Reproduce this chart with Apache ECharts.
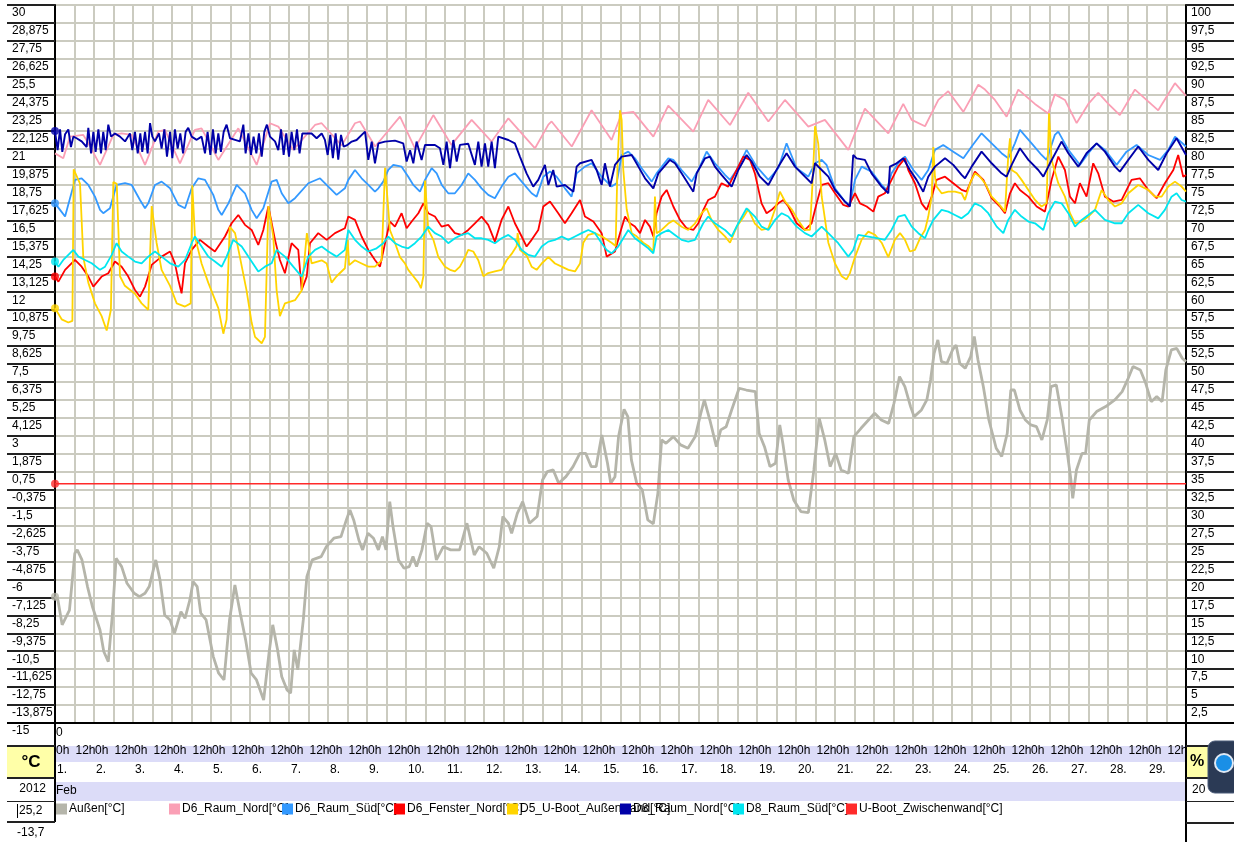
<!DOCTYPE html>
<html>
<head>
<meta charset="utf-8">
<title>Feb 2012</title>
<script src="https://cdn.jsdelivr.net/npm/echarts@6/dist/echarts.min.js"></script>
<style>
html,body{margin:0;padding:0;background:#fff;}
#main{width:1234px;height:842px;}
</style>
</head>
<body>
<div id="main"></div>
<script>
// Zeit in Stunden ab 1. Feb 0h, Werte in °C
var monthLabel = 'Feb';
var yearLabel = '2012';
var totalHours = 696;

var seriesNames = ['Außen[°C]', 'D6_Raum_Nord[°C]', 'D6_Raum_Süd[°C]', 'D6_Fenster_Nord[°C]',
    'D5_U-Boot_Außenwand[°C]', 'D8_Raum_Nord[°C]', 'D8_Raum_Süd[°C]', 'U-Boot_Zwischenwand[°C]'];
var seriesColors = ['#b5b5aa', '#fa9fb5', '#3399ff', '#ff0000', '#ffd400', '#0000a8', '#00e6f0', '#ff2a2a'];
var legendLeft = [56, 169, 282, 394, 507, 620, 733, 846];

var aussen = [[0,-7.08],[1.8,-7.29],[4.4,-8.85],[8.9,-7.92],[12.2,-4.36],[13.7,-4.15],[16.6,-4.78],[20,-6.45],
  [23,-7.7],[27.7,-9.17],[30,-10.52],[32.8,-11.15],[35.4,-8.12],[37.6,-4.68],[41,-5.2],[44.3,-6.24],[48.7,-6.87],
  [52,-7.08],[55.4,-6.87],[58,-6.45],[62,-4.78],[64.6,-6.03],[67.5,-8.23],[70.8,-8.54],[73.5,-9.38],[77.5,-8.02],
  [80,-8.44],[83,-7.29],[85,-6.14],[87.5,-6.45],[89.7,-8.12],[93,-8.54],[97.4,-10.84],[100.7,-11.88],[104,-12.3],
  [107.4,-8.54],[110.7,-6.35],[114,-8.12],[117.3,-9.79],[120.7,-11.88],[124,-12.3],[128.4,-13.56],[131.7,-10.63],
  [134,-8.85],[137,-10.42],[139.5,-12.09],[142.8,-12.93],[145,-13.13],[147.2,-10.42],[149.4,-11.67],[152.8,-8.54],
  [155,-5.83],[158.3,-4.78],[163.8,-4.57],[167,-3.95],[171.6,-3.42],[176,-3.32],[179.3,-2.27],[181.5,-1.65],
  [183.8,-2.27],[187,-3.53],[189.3,-4.15],[192.6,-3.11],[196,-3.42],[199,-4.15],[201.5,-3.32],[203.7,-4.15],
  [206,-1.13],[208,-2.69],[211.4,-4.78],[214.8,-5.3],[218,-5.2],[220.3,-4.57],[222.5,-5.2],[225.8,-4.15],
  [229,-2.48],[231.4,-2.69],[234.7,-4.78],[239,-3.95],[243.5,-4.15],[249,-4.15],[253.5,-2.48],[258,-4.47],
  [261,-3.95],[265.7,-4.36],[270,-5.3],[273.4,-3.95],[275.6,-2.06],[279,-2.48],[281,-3.11],[284.5,-1.86],
  [287.8,-1.13],[292,-2.48],[296.7,-2.06],[300,0.23],[303,0.76],[306.6,0.86],[310,0.02],[314.4,0.44],[318.8,1.07],
  [323,1.9],[326.6,1.9],[330,1.07],[333,1.07],[336.5,3.05],[340,1.28],[342,0.02],[344.6,0.44],[346.8,2.95],
  [350.2,4.66],[352.5,4.2],[354.7,1.49],[358,0.02],[361.4,-0.39],[364.8,-2.27],[368.2,-2.52],[371,-0.6],
  [373.3,2.74],[376,2.53],[380.5,2.95],[385,2.43],[389.5,2.22],[394,2.95],[397.4,4.41],[399.6,5.25],[403,3.99],
  [407,2.32],[409.7,3.37],[413,3.57],[416.4,4.62],[421,5.98],[425.4,5.87],[431,5.77],[433.3,3.16],[436.6,2.32],
  [440,1.07],[443.4,1.28],[446,3.68],[447.9,2.53],[451.2,0.23],[454.6,-1.02],[459,-1.75],[463.6,-1.81],[467,0.86],
  [470.3,4.1],[473.7,2.74],[477,1.07],[480.4,1.9],[483.8,0.86],[488.3,0.65],[491.6,2.95],[496,3.47],[500.6,3.99],
  [504.4,4.41],[508.5,3.99],[513,3.78],[516.3,5.04],[519.7,6.71],[523,6.08],[526.5,4.83],[528.7,4.2],[533.2,4.62],
  [536.5,5.25],[538.8,6.5],[541,8.17],[543.3,9.01],[545.5,7.65],[548.9,7.54],[552.3,8.38],[554.5,8.69],[556.8,7.54],
  [560.1,7.23],[563.5,7.96],[565.7,9.22],[568,7.75],[571.3,6.08],[574.7,3.99],[579.2,2.22],[582.6,1.7],[586,3.16],
  [588.2,5.87],[590.4,5.87],[593.8,4.62],[597.2,3.99],[600.5,3.68],[604,3.57],[607.3,2.74],[610.6,3.99],[612.9,6.08],
  [616.2,6.19],[619.6,4.2],[623,1.9],[625.2,0.23],[626.3,-0.92],[628.6,0.86],[632,1.9],[634.2,1.9],[636.5,3.99],
  [641,4.52],[646.6,4.83],[652.2,5.25],[656.7,5.77],[660,6.5],[663.4,7.34],[667.9,7.13],[671.2,6.29],[674.6,5.14],
  [678,5.46],[681.3,5.14],[683.6,7.13],[687,8.38],[690.3,8.48],[693.7,7.86],[696,7.65]];

var d6Nord = [[0,20.7],[5.1,20.4],[9.2,21.75],[17.4,21.86],[20.5,21.33],[27.7,19.98],[35.9,21.86],[41,21.96],
  [47.2,21.86],[55.4,19.98],[63.6,22.06],[67.7,22.17],[76.9,20.08],[86.1,22.17],[90.2,22.27],[100.5,20.29],
  [112.8,22.27],[124.1,19.98],[132.3,22.59],[137.4,22.38],[146.6,20.92],[160,22.48],[164.1,22.59],[176.4,21.2],
  [184.6,22.59],[187.7,22.7],[197,21.13],[212.3,23.0],[221.5,21.02],[232.8,23.1],[244,21.23],[256.4,22.8],
  [268.7,21.44],[279,22.9],[295.4,21.02],[303.6,22.5],[305.6,22.7],[318,21.13],[330.2,23.4],[342.5,21.54],
  [348.7,23.2],[355.9,23.3],[368.2,21.75],[377.4,23.7],[392.8,22.06],[402,24.05],[415.4,22.48],[426.6,24.5],
  [439,22.7],[449.2,24.05],[463.6,22.38],[473.8,22.8],[488.2,20.92],[498.4,23.5],[512.8,21.96],[522,23.8],
  [527.2,22.8],[535.4,22.4],[543.6,24.05],[549.7,24.6],[559,23.3],[568.2,25.0],[572.3,24.7],[578.4,24.05],
  [585.6,23.0],[592.8,24.7],[603,23.8],[611.2,23.2],[615.3,24.4],[621.5,24.05],[628.7,22.6],[635.9,23.8],
  [642,24.5],[648.2,23.8],[655.3,23.1],[664.6,24.7],[678.9,23.4],[689.2,25.1],[696,24.3]];

var d6Sued = [[0,17.57],[3.1,17.16],[6.2,16.74],[12.3,19.04],[16.4,19.14],[20.5,18.72],[24.6,17.99],[27.7,17.16],
  [29.7,16.95],[33.8,17.26],[37.9,18.72],[43.1,18.83],[47.2,18.72],[52.3,17.78],[55.4,17.26],[57.4,17.57],
  [61.5,18.72],[65.6,18.93],[70.8,18.51],[75.9,17.47],[80,17.26],[84.1,18.51],[88.2,19.14],[92.3,19.04],
  [97.4,18.1],[100.5,17.16],[102.6,16.84],[106.7,17.57],[111.8,18.72],[116.9,18.2],[121,17.16],[124.1,16.63],
  [128.2,17.26],[133.3,18.93],[136.4,19.04],[139.5,18.2],[143.6,17.57],[147.7,17.89],[155.9,18.83],[163.1,19.14],
  [168.2,18.62],[173.3,18.1],[178.4,18.51],[180.5,19.04],[184.6,19.66],[188.7,19.14],[192.8,18.72],[196.9,18.3],
  [199,18.51],[202,18.93],[205.1,19.66],[208.2,19.98],[213.3,19.87],[217.4,19.24],[220.5,18.72],[224.6,18.3],
  [227.7,19.04],[231.8,19.77],[234.9,19.45],[238,18.72],[242,18.2],[246.1,18.2],[250.2,18.72],[254.3,19.45],
  [258.4,19.04],[262.5,18.51],[266.6,18.1],[270.7,17.89],[274.8,18.62],[279,19.24],[283,19.45],[287.2,18.93],
  [293.3,18.2],[296.4,17.99],[300.5,19.24],[304.6,19.56],[308.7,19.24],[313.8,18.51],[317.9,17.99],[321,19.45],
  [326.1,19.87],[330.2,20.08],[336.4,19.24],[342.5,18.62],[345.6,18.83],[348.7,20.6],[352.8,20.81],[356.9,20.39],
  [361,19.77],[367.2,18.93],[370.2,19.45],[377.4,20.39],[380.5,20.29],[385.6,19.66],[391.8,18.93],[395.9,19.66],
  [401,20.81],[406.1,20.08],[412.3,19.35],[415.4,19.04],[419.5,19.66],[425.6,20.92],[431.8,19.87],[439,19.04],
  [445.1,19.77],[450.2,21.33],[456.4,19.77],[463.6,19.24],[467.7,20.08],[471.8,20.29],[474.8,19.98],[480,18.51],
  [486.1,17.68],[489.2,17.47],[492.3,19.04],[496.4,19.87],[502.5,19.56],[508.7,18.72],[511.8,18.41],[514.8,19.45],
  [518.9,20.08],[523,20.5],[528.2,19.66],[533.3,19.04],[537.4,19.66],[541.5,20.92],[546.6,21.23],[552.8,20.81],
  [559,20.39],[564.1,21.13],[570.2,21.96],[576.4,21.33],[582.5,20.71],[586.6,20.39],[590.7,21.33],[593.8,22.17],
  [601,21.33],[607.1,20.6],[610.2,20.29],[615.3,21.86],[617.4,22.06],[623.6,20.92],[630.7,19.98],[635.9,20.71],
  [641,21.33],[646.1,20.92],[653.3,19.98],[659.4,20.81],[665.6,21.23],[672.8,20.6],[680,20.29],[685.1,20.92],
  [689.2,21.75],[696,21.13]];

var d6Fenster = [[0,12.98],[2.1,12.66],[6.2,13.4],[12.3,14.02],[16.4,13.6],[20.5,12.98],[23.6,12.35],[28.7,12.98],
  [32.8,13.19],[36.9,13.92],[41,13.6],[45.1,12.98],[49.2,12.14],[52.3,11.72],[55.4,12.35],[59.5,13.71],[65.6,14.23],
  [70.8,14.55],[73.8,13.81],[75.9,12.77],[77.9,11.93],[80,13.81],[84.1,14.65],[89.2,15.28],[94.3,14.86],[98.4,14.55],
  [104.6,15.49],[108.7,16.32],[112.8,16.84],[116.9,16.22],[121,15.9],[125.1,14.96],[128.2,15.9],[131.3,17.37],
  [135.4,15.28],[138.4,14.02],[141.5,13.19],[145.6,15.07],[149.7,14.65],[151.8,12.14],[154.9,12.98],[156.9,15.07],
  [162,15.7],[167.2,15.28],[172.3,15.7],[178.4,16.01],[180.5,16.74],[184.6,16.53],[188.7,15.49],[192.8,14.65],
  [196.9,14.02],[200,13.6],[203.1,15.07],[206.1,16.43],[209.2,16.11],[213.3,16.95],[216.4,16.01],[219.5,16.43],
  [223.6,16.95],[226.7,17.57],[229.7,16.95],[233.8,16.74],[237.9,16.11],[242,16.22],[246.1,15.7],[250.2,15.59],
  [254.3,15.9],[258.4,16.32],[262.5,16.74],[266.6,16.22],[270.7,15.17],[274.8,16.53],[279,17.37],[283,16.32],
  [287.2,15.49],[290.2,14.86],[293.3,15.28],[297.4,15.9],[300.5,17.37],[304.6,17.68],[309.7,16.95],[313.8,16.32],
  [317.9,16.95],[323.1,17.78],[326.1,16.74],[331.3,16.43],[336.4,15.7],[339.5,14.23],[344.6,14.55],[347.7,15.7],
  [350.8,16.74],[353.8,16.32],[356.9,16.11],[360,15.7],[363.1,16.53],[366.1,16.11],[368.2,15.49],[370.2,16.95],
  [373.3,17.99],[376.4,18.41],[380.5,17.37],[384.6,16.53],[388.7,16.01],[392.8,15.9],[395.9,16.32],[399,17.16],
  [402,17.78],[406.1,17.99],[410.2,18.83],[414.3,18.62],[418.4,19.45],[423.6,20.5],[427.7,20.29],[430.7,19.45],
  [434.8,17.57],[437.9,16.95],[441,17.16],[445.1,17.57],[448.2,17.78],[451.3,17.37],[456.4,16.32],[461.5,15.9],
  [465.6,16.32],[468.7,17.57],[471.8,18.72],[475.9,18.83],[480,18.2],[485.1,17.47],[488.2,17.37],[492.3,18.2],
  [495.4,17.57],[499.5,17.37],[503.6,17.05],[506.6,17.99],[510.7,18.2],[514.8,19.04],[518.9,19.87],[523,20.39],
  [525.1,19.66],[529.2,18.83],[533.3,17.57],[536.4,17.16],[539.5,17.99],[542.5,19.04],[547.7,19.24],[552.8,18.83],
  [557.9,18.41],[561,18.3],[566.1,19.56],[571.3,19.04],[576.4,17.89],[581.5,17.37],[584.6,16.95],[587.7,18.2],
  [590.7,18.83],[593.8,18.41],[599,17.99],[604.1,17.37],[609.2,17.05],[613.3,19.04],[617.4,20.5],[621.5,19.66],
  [624.6,17.99],[627.7,17.57],[630.7,18.83],[634.8,17.99],[638.9,20.08],[642,19.45],[646.1,17.99],[651.2,17.68],
  [656.4,17.78],[662.5,19.04],[667.6,19.14],[672.8,18.41],[677.9,17.89],[683,18.83],[688.2,19.66],[691.2,20.6],
  [694.3,19.24],[696,19.35]];

var d5Aussenwand = [[0,11.0],[4.1,10.3],[8.2,10.1],[10.7,10.2],[11.5,19.7],[15.4,18.8],[17.4,14.2],[20.5,12.6],
  [24.6,11.3],[28.7,10.5],[31.8,9.6],[34.4,10.9],[35.9,18.9],[38,18.8],[40,13.0],[43,12.4],[49.2,11.9],[53.3,11.3],
  [57.4,10.9],[59.5,17.4],[62.5,15.1],[65.6,13.4],[70.8,12.4],[74.9,11.3],[80,11.1],[83.5,11.3],[84.5,18.7],
  [86.1,15.5],[90.2,13.8],[94.3,12.6],[100.5,11.0],[103.6,9.4],[105.6,10.3],[107.5,16.1],[110.8,15.7],[113.8,14.2],
  [117.9,12.1],[121,10.1],[123.1,9.2],[127.2,8.8],[129.2,9.2],[131.3,17.4],[134.3,15.5],[136.4,12.1],[138.4,10.5],
  [141.5,11.3],[147.7,11.5],[151.8,12.1],[155,15.7],[157.9,13.8],[164.1,14.0],[167.2,13.8],[170.2,12.6],[173.3,13.0],
  [178.4,13.5],[180.1,15.3],[181,13.7],[184.6,14.0],[188.7,13.8],[192.8,13.6],[196.9,13.6],[201,14.0],[203.1,19.8],
  [206.1,15.9],[209.2,15.1],[212.3,14.2],[215.4,13.8],[217.4,13.4],[220.5,13.0],[223.6,12.6],[225.2,12.25],
  [226.7,13.0],[227.7,19.0],[229.7,15.9],[232.8,15.3],[235.9,14.2],[240,13.6],[243.1,13.4],[246.1,13.3],[249.2,13.6],
  [252.3,14.2],[254.3,14.65],[257.4,14.55],[260.5,14.0],[263.6,13.0],[266.6,13.2],[270.7,13.3],[274.8,13.4],
  [277.9,14.0],[281,14.4],[284.1,14.9],[284.7,15.7],[286.1,14.65],[290.2,14.3],[293.3,13.6],[296.4,13.4],
  [299.5,13.8],[303.6,14.2],[307.7,13.8],[311.8,13.6],[316,13.4],[320,13.3],[323.1,13.8],[325.1,15.1],[328.2,15.6],
  [332.3,15.7],[336.4,15.5],[339.5,15.3],[342.5,15.1],[345,14.9],[346.2,20.1],[347.7,23.4],[348.7,22.8],[349.7,19.7],
  [351.8,17.2],[354.9,15.7],[357.9,15.5],[362,15.1],[365.1,14.9],[368.2,14.55],[369.2,18.0],[370.2,15.7],
  [373.3,15.9],[377.4,16.3],[380.5,16.5],[385.6,16.1],[389.7,15.9],[393.8,16.3],[397.9,16.95],[401,17.26],
  [404.1,16.5],[408.2,15.9],[412.3,15.5],[415.4,15.1],[419.5,16.1],[423.6,16.7],[426.6,17.2],[430.7,16.3],
  [434.8,15.9],[439,16.0],[443.1,17.2],[446.1,18.3],[449.2,17.7],[453.3,17.2],[457.4,16.5],[461.5,15.9],[464.6,15.9],
  [466.6,19.7],[467.7,22.4],[468.7,22.5],[469.7,21.3],[471.8,18.0],[475.9,15.1],[480,13.8],[484.1,13.0],
  [487.1,12.8],[489.2,13.2],[492.3,14.2],[496.4,15.3],[500.5,15.8],[504.6,15.6],[508.7,15.1],[512.8,14.2],
  [516.9,15.3],[520,15.7],[523,15.3],[526.1,14.55],[529.2,14.65],[532.3,15.38],[535.4,15.9],[537.4,16.74],
  [539.5,18.0],[540.5,21.1],[541.5,19.24],[542.5,18.62],[545.6,18.2],[549.7,18.3],[553.8,18.3],[557.9,18.2],
  [560,17.78],[563.1,18.83],[566.1,19.45],[569.2,19.24],[572.3,18.83],[576.4,17.99],[580.5,17.57],[584.6,17.05],
  [586.6,20.5],[587.7,21.65],[588.7,19.66],[591.8,19.45],[594.8,19.04],[599,18.41],[603.1,17.78],[607.1,17.37],
  [610.2,17.57],[611.7,23.21],[613.3,20.29],[617.4,18.83],[621.5,17.99],[624.6,16.95],[627.7,16.32],[631.8,16.43],
  [635.9,16.74],[640,17.16],[644.1,18.41],[648.2,17.78],[652.3,17.37],[656.4,17.57],[660.5,18.2],[666.6,18.72],
  [672.8,18.41],[676.9,17.99],[681,17.99],[685.1,18.62],[689.2,18.93],[693.3,18.62],[696,18.3]];

var d8Nord = [[0,22.1],[1.6,20.9],[3.1,22.2],[4.5,20.8],[6.2,21.9],[8.2,22.2],[9.8,21.1],[11.3,21.75],[13.3,21.65],
  [16.4,21.45],[19.5,21.1],[20.5,22.3],[22.2,20.7],[23.6,22.05],[25,20.8],[26.7,22.2],[28.3,20.7],[29.7,22.05],
  [31.2,20.9],[32.8,22.5],[34.5,21.75],[36.9,21.95],[40,21.75],[43.1,21.45],[46.1,21.95],[47.6,20.9],[49.2,22.05],
  [50.9,20.7],[52.5,21.95],[53.7,20.8],[55.4,22.05],[57,20.7],[58.5,22.6],[59.9,21.75],[61.5,21.45],[64,21.95],
  [65.6,21.0],[67.3,22.2],[68.9,20.5],[70.8,22.05],[72.2,20.4],[73.8,22.2],[75.5,21.0],[77.1,21.95],[78.8,20.7],
  [80.4,22.05],[82,22.3],[84.1,21.75],[87.2,21.55],[90.2,21.75],[92.3,20.7],[93.9,22.05],[95.6,20.6],[97.2,22.2],
  [98.9,20.7],[100.5,21.95],[102.1,20.8],[103.8,22.05],[105.6,22.5],[107.7,21.65],[110.8,21.55],[113.8,21.45],
  [115.9,22.5],[117.3,20.7],[119,21.95],[120.6,20.6],[122.2,21.75],[123.9,20.7],[125.5,21.95],[127.2,20.5],
  [128.8,22.05],[130.4,22.5],[132.3,21.75],[135.4,21.45],[137.4,20.9],[139.1,22.2],[140.7,20.6],[142.3,21.95],
  [144,20.5],[145.6,22.05],[147.3,20.9],[148.9,22.2],[150.5,20.7],[152.2,21.95],[155,21.95],[157.9,21.95],
  [161,21.65],[164.1,21.95],[166.1,21.55],[167.8,20.6],[169.4,21.86],[171,20.4],[172.7,21.96],[174.3,20.3],
  [176,21.86],[177.6,21.13],[179.5,21.2],[182.6,21.44],[185.6,21.54],[190.8,22.06],[192.8,20.29],[194.9,21.44],
  [196.9,20.08],[199,21.33],[203,21.44],[209.2,21.5],[214.3,21.33],[216.4,20.19],[218.5,20.9],[220.5,20.08],
  [222.5,21.44],[225.6,20.29],[227.7,21.23],[233.8,21.23],[236.9,21.02],[239,19.98],[241,21.44],[243.1,19.77],
  [245.1,21.54],[247.2,20.19],[249.2,21.23],[254.3,21.3],[258.4,19.98],[260.5,21.44],[262.5,19.87],[264.6,21.33],
  [266.6,19.87],[268.7,21.44],[270.7,19.77],[272.8,21.75],[279,21.54],[283,21.33],[286.1,20.5],[290.2,19.45],
  [294.3,18.62],[297.4,19.04],[301.5,19.98],[303.6,18.72],[306.6,19.66],[308.7,18.62],[313.8,18.72],[319,18.3],
  [321,19.87],[323.1,20.08],[330.2,20.29],[333.3,19.66],[336.4,18.72],[338.4,20.08],[341.5,18.62],[344.6,19.98],
  [348.7,20.5],[354.9,20.6],[359,19.87],[363.1,19.14],[368.2,18.51],[371.3,19.45],[378.4,20.29],[381.5,20.08],
  [385.6,19.45],[392.8,18.3],[394.9,19.45],[400,20.39],[403,20.5],[406.1,19.87],[410.2,19.35],[416.4,18.62],
  [420.5,19.66],[425.6,20.6],[428.7,20.19],[433.8,19.24],[439,18.72],[445.1,19.87],[450.2,20.71],[455.4,19.87],
  [461.5,19.24],[465.6,18.83],[467.7,20.08],[471.8,19.66],[475.9,19.24],[480,18.41],[486.1,17.68],[489.2,17.37],
  [491.2,20.6],[493.3,20.39],[498.4,20.29],[502.5,19.45],[508.7,18.62],[512.8,18.2],[513.8,19.87],[517.9,20.08],
  [522,20.39],[526.1,19.66],[530.2,19.04],[534.3,18.3],[537.4,19.24],[541.5,19.87],[547.7,20.39],[552.8,19.98],
  [557.9,19.35],[560,19.14],[564.1,19.87],[570.2,20.81],[576.4,20.08],[582.5,19.45],[585.6,19.24],[588.7,19.98],
  [593.8,21.02],[599,20.29],[605.1,19.66],[608.2,19.24],[612.3,20.08],[619.4,21.44],[623.6,20.71],[629.7,19.87],
  [634.8,20.71],[641,21.33],[646.1,20.81],[652.3,19.87],[655.3,19.56],[660.5,20.29],[666.6,21.13],[672.8,20.29],
  [678.9,19.66],[684.1,20.71],[690.2,21.65],[696,20.6]];

var d8Sued = [[0,13.92],[2.1,13.6],[5.1,14.02],[11.3,14.65],[14.4,14.23],[18.5,14.02],[22.6,13.81],[27.7,13.4],
  [30.8,13.6],[34.9,14.34],[37.9,15.07],[41,14.55],[45.1,14.23],[49.2,13.92],[53.3,13.81],[57.4,14.23],[61.5,14.55],
  [65.6,14.23],[70.8,13.81],[75.9,13.6],[80,14.02],[84.1,15.07],[86.1,15.49],[90.2,14.86],[94.3,14.23],[98.4,13.92],
  [102.6,13.6],[105.6,14.23],[109.7,15.28],[114.9,14.86],[121,13.92],[125.1,13.29],[129.2,13.6],[133.3,13.81],
  [136.4,14.65],[141.5,14.23],[146.6,13.6],[151.8,12.98],[155.9,14.23],[160,14.65],[164.1,14.86],[168.2,14.55],
  [173.3,14.23],[178.4,14.65],[180.5,15.9],[184.6,15.28],[188.7,14.86],[192.8,14.55],[197.9,14.75],[202,15.07],
  [205.1,15.49],[209.2,15.07],[213.3,14.86],[217.4,14.75],[221.5,15.07],[225.6,15.49],[229.7,16.11],[233.8,15.7],
  [237.9,15.49],[242,15.07],[246.1,15.38],[250.2,15.59],[254.3,15.7],[258.4,15.38],[262.5,15.38],[266.6,15.28],
  [270.7,15.07],[274.8,15.38],[279,15.59],[283,15.28],[287.2,14.65],[291.3,14.34],[295.4,14.23],[299.5,14.86],
  [303.6,15.17],[307.7,15.28],[311.8,15.49],[315.9,15.28],[320,15.49],[324.1,15.7],[328.2,15.9],[332.3,15.7],
  [336.4,15.07],[339.5,14.65],[342.5,14.44],[346.6,14.86],[352.8,15.9],[356.9,15.38],[361,15.07],[365.1,14.75],
  [368.2,14.44],[370.2,15.49],[373.3,15.7],[377.4,15.9],[381.5,15.59],[385.6,15.28],[389.7,15.17],[393.8,15.28],
  [398.9,16.32],[402,16.74],[406.1,16.32],[412.3,15.9],[416.4,15.49],[420.5,16.32],[425.6,17.26],[430.7,16.74],
  [434.8,16.11],[439,15.9],[443.1,16.53],[447.2,16.95],[451.3,16.74],[456.4,16.11],[461.5,15.7],[465.6,15.49],
  [471.8,16.11],[475.9,15.7],[482,15.07],[488.2,14.23],[491.2,14.65],[494.3,15.59],[500.5,15.49],[506.6,15.38],
  [510.7,15.28],[514.8,15.9],[518.9,16.74],[523,16.84],[527.2,16.11],[531.3,15.7],[535.4,15.38],[537.4,15.9],
  [540.5,16.53],[545.6,17.16],[549.7,17.05],[553.8,16.84],[557.9,16.63],[562,16.95],[566.1,17.57],[570.2,17.37],
  [574.3,16.95],[579.5,16.11],[583.6,15.7],[586.6,16.53],[590.7,17.16],[594.8,16.74],[599,16.43],[603.1,16.32],
  [608.2,15.9],[611.2,16.95],[615.3,17.68],[619.4,17.57],[623.6,16.95],[627.7,16.11],[631.8,16.53],[635.9,16.84],
  [640,17.16],[646.1,16.53],[652.3,16.32],[656.4,16.32],[660.5,16.95],[666.6,17.47],[672.8,16.95],[678.9,16.63],
  [683,17.16],[687.1,17.99],[690.2,18.2],[693.3,17.78],[696,17.68]];

var zwischenwand = [[0,0],[696,0]];

var seriesData = [aussen, d6Nord, d6Sued, d6Fenster, d5Aussenwand, d8Nord, d8Sued, zwischenwand];
var lineWidths = [2.8, 1.8, 1.8, 1.8, 1.8, 1.9, 1.8, 1.5];
var markerShown = [true, false, true, true, true, true, true, true];

var font = '"Liberation Sans", Arial, sans-serif';
var gridColor = '#cbcbc0';

function comma(v) {
    return String(Math.round(v * 1000) / 1000).replace('.', ',');
}

var myChart = echarts.init(document.getElementById('main'), null, {renderer: 'canvas'});

var series = [];
seriesData.forEach(function (d, i) {
    series.push({
        name: seriesNames[i],
        type: 'line',
        data: d,
        showSymbol: false,
        symbol: 'none',
        silent: true,
        lineStyle: {color: seriesColors[i], width: lineWidths[i]},
        itemStyle: {color: seriesColors[i]},
        z: 2 + i
    });
});
// Punkte am Cursor (erster Messwert)
series.push({
    type: 'scatter',
    symbolSize: 8,
    silent: true,
    z: 20,
    data: seriesData.map(function (d, i) {
        return markerShown[i] ? {value: d[0], itemStyle: {color: seriesColors[i]}} : null;
    }).filter(function (x) { return x; })
});

var legends = seriesNames.map(function (n, i) {
    return {
        data: [n],
        left: legendLeft[i],
        top: 803,
        padding: 0,
        itemGap: 0,
        itemWidth: 11,
        itemHeight: 11,
        icon: 'rect',
        selectedMode: false,
        textStyle: {fontFamily: font, fontSize: 12, color: '#000', padding: [0, 0, 0, -3]}
    };
});

var txt = {fontFamily: font, fontSize: 12, fill: '#000'};

var option = {
    animation: false,
    backgroundColor: '#fff',
    legend: legends,
    grid: {left: 55, right: 48, top: 5, bottom: 119, containLabel: false},
    xAxis: [{
        type: 'value', min: 0, max: totalHours, interval: 12, position: 'bottom',
        axisLine: {show: true, onZero: false, lineStyle: {color: '#000', width: 2}},
        axisTick: {show: false},
        splitLine: {show: true, lineStyle: {color: gridColor, width: 2}},
        axisLabel: {
            margin: 22, align: 'left', padding: [0, 0, 0, 1],
            fontFamily: font, fontSize: 12, color: '#000',
            showMinLabel: true, showMaxLabel: true,
            formatter: function (v) {
                if (v >= totalHours) return '';
                return v % 24 === 0 ? '0h' : '12h';
            }
        }
    }, {
        type: 'value', min: 0, max: totalHours, interval: 24, position: 'bottom',
        axisLine: {show: false}, axisTick: {show: false}, splitLine: {show: false},
        axisLabel: {
            margin: 41, align: 'left', padding: [0, 0, 0, 2],
            fontFamily: font, fontSize: 12, color: '#000',
            formatter: function (v) {
                if (v >= totalHours) return '';
                return (v / 24 + 1) + '.';
            }
        }
    }],
    yAxis: [{
        type: 'value', min: -15, max: 30, interval: 1.125, position: 'left',
        axisLine: {show: true, onZero: false, lineStyle: {color: '#000', width: 2}},
        axisTick: {show: true, length: 48, lineStyle: {color: '#222', width: 2}},
        splitLine: {show: true, lineStyle: {color: gridColor, width: 2}},
        axisLabel: {
            margin: 43, align: 'left', verticalAlign: 'top', padding: [2, 0, 0, 0],
            fontFamily: font, fontSize: 12, color: '#000',
            showMinLabel: true, showMaxLabel: true,
            formatter: comma
        }
    }, {
        type: 'value', min: 0, max: 100, interval: 2.5, position: 'right',
        axisLine: {show: true, onZero: false, lineStyle: {color: '#000', width: 2}},
        axisTick: {show: true, length: 48, lineStyle: {color: '#222', width: 2}},
        splitLine: {show: false},
        axisLabel: {
            margin: 5, align: 'left', verticalAlign: 'top', padding: [2, 0, 0, 0],
            fontFamily: font, fontSize: 12, color: '#000',
            showMinLabel: true, showMaxLabel: true,
            formatter: comma
        }
    }],
    graphic: [
        // Hintergrundzeilen unter der Zeitachse
        {type: 'rect', z: -10, silent: true, shape: {x: 55, y: 746, width: 1131, height: 16}, style: {fill: '#dcdcf8'}},
        {type: 'rect', z: -10, silent: true, shape: {x: 55, y: 782, width: 1131, height: 19}, style: {fill: '#dcdcf8'}},
        {type: 'text', silent: true, style: Object.assign({x: 56, y: 733, text: '0', verticalAlign: 'middle'}, txt)},
        {type: 'text', silent: true, style: Object.assign({x: 56, y: 791, text: monthLabel, verticalAlign: 'middle'}, txt)},
        // rechte Abdeckung
        {type: 'rect', z: 99, silent: true, shape: {x: 1187, y: 724, width: 47, height: 118}, style: {fill: '#fff'}},
        {type: 'rect', z: 100, silent: true, shape: {x: 1187, y: 746.5, width: 47, height: 30.5}, style: {fill: '#ffffa8'}},
        {type: 'text', z: 101, silent: true, style: {x: 1190, y: 762, text: '%', verticalAlign: 'middle', fontFamily: font, fontSize: 16, fontWeight: 'bold', fill: '#000'}},
        {type: 'text', z: 101, silent: true, style: Object.assign({x: 1192, y: 790, text: '20', verticalAlign: 'middle'}, txt)},
        // linke Felder
        {type: 'rect', z: 100, silent: true, shape: {x: 7, y: 746.5, width: 47, height: 30.5}, style: {fill: '#ffffa8'}},
        {type: 'text', z: 101, silent: true, style: {x: 31, y: 762, text: '°C', align: 'center', verticalAlign: 'middle', fontFamily: font, fontSize: 17, fontWeight: 'bold', fill: '#000'}},
        {type: 'text', z: 101, silent: true, style: Object.assign({x: 46, y: 789, text: yearLabel, align: 'right', verticalAlign: 'middle'}, txt)},
        {type: 'text', z: 101, silent: true, style: Object.assign({x: 19, y: 811, text: '25,2', verticalAlign: 'middle'}, txt)},
        {type: 'line', z: 101, silent: true, shape: {x1: 17.5, y1: 804, x2: 17.5, y2: 818}, style: {stroke: '#000', lineWidth: 1}},
        {type: 'text', z: 101, silent: true, style: Object.assign({x: 17, y: 833, text: '-13,7', verticalAlign: 'middle'}, txt)},
        // Linien
        {type: 'line', z: 102, silent: true, shape: {x1: 7, y1: 723, x2: 1234, y2: 723}, style: {stroke: '#000', lineWidth: 2}},
        {type: 'line', z: 102, silent: true, shape: {x1: 55, y1: 723, x2: 55, y2: 822}, style: {stroke: '#000', lineWidth: 2}},
        {type: 'line', z: 102, silent: true, shape: {x1: 1186, y1: 723, x2: 1186, y2: 842}, style: {stroke: '#000', lineWidth: 2}},
        {type: 'line', z: 102, silent: true, shape: {x1: 7, y1: 746, x2: 55, y2: 746}, style: {stroke: '#222', lineWidth: 2}},
        {type: 'line', z: 102, silent: true, shape: {x1: 7, y1: 778, x2: 55, y2: 778}, style: {stroke: '#222', lineWidth: 2}},
        {type: 'line', z: 102, silent: true, shape: {x1: 7, y1: 801.5, x2: 55, y2: 801.5}, style: {stroke: '#222', lineWidth: 1}},
        {type: 'line', z: 102, silent: true, shape: {x1: 7, y1: 822, x2: 55, y2: 822}, style: {stroke: '#222', lineWidth: 2}},
        {type: 'line', z: 102, silent: true, shape: {x1: 1186, y1: 746, x2: 1234, y2: 746}, style: {stroke: '#222', lineWidth: 2}},
        {type: 'line', z: 102, silent: true, shape: {x1: 1186, y1: 778, x2: 1234, y2: 778}, style: {stroke: '#222', lineWidth: 2}},
        {type: 'line', z: 102, silent: true, shape: {x1: 1186, y1: 801.5, x2: 1234, y2: 801.5}, style: {stroke: '#222', lineWidth: 1}},
        {type: 'line', z: 102, silent: true, shape: {x1: 1186, y1: 823, x2: 1234, y2: 823}, style: {stroke: '#222', lineWidth: 2}},
        // Fernwartungs-Symbol am Rand
        {type: 'rect', z: 110, silent: true, shape: {x: 1208, y: 741, width: 32, height: 52, r: 7}, style: {fill: '#2b3a55', stroke: '#4a5a78', lineWidth: 1}},
        {type: 'circle', z: 111, silent: true, shape: {cx: 1224, cy: 763, r: 9}, style: {fill: '#1a8fe6', stroke: '#dfe8f4', lineWidth: 2}}
    ],
    series: series
};

option && myChart.setOption(option);
</script>
</body>
</html>
